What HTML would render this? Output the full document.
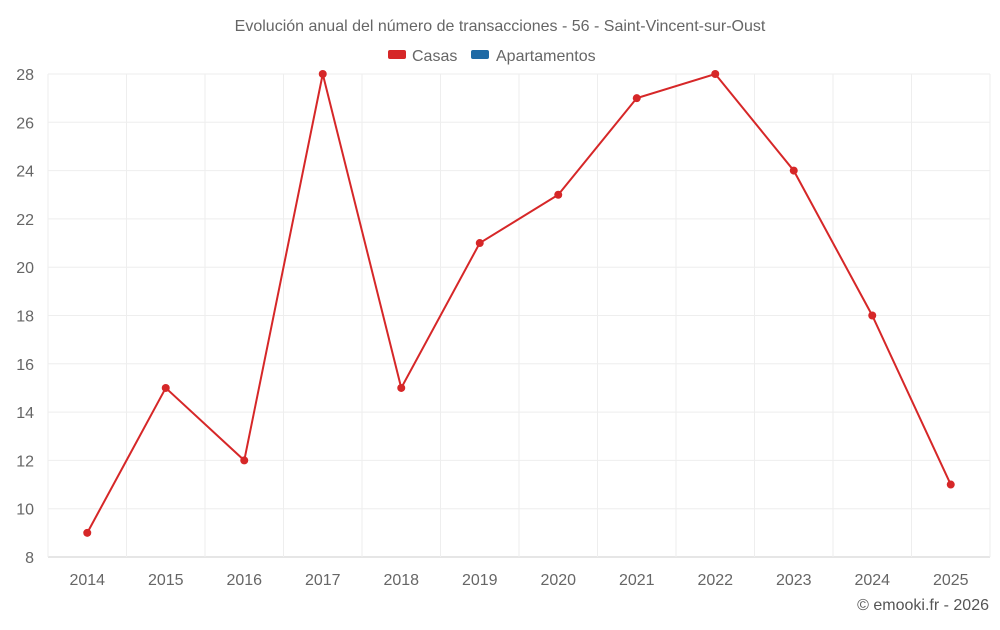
<!DOCTYPE html>
<html><head><meta charset="utf-8"><style>
body{margin:0;background:#fff;font-family:"Liberation Sans",sans-serif;}
svg text{font-family:"Liberation Sans",sans-serif;}
</style></head><body>
<svg id="c" width="1000" height="625" xmlns="http://www.w3.org/2000/svg">
<text x="500" y="31" text-anchor="middle" font-size="16" fill="#666">Evolución anual del número de transacciones - 56 - Saint-Vincent-sur-Oust</text>
<g>
<g><rect x="388" y="50" width="18" height="9" rx="2" fill="#d62728"/><text x="412" y="61" font-size="16" fill="#666">Casas</text></g>
<g><rect x="471" y="50" width="18" height="9" rx="2" fill="#1f6aa5"/><text x="496" y="61" font-size="16" fill="#666">Apartamentos</text></g>
</g>
<g id="grid"></g><g id="axes"></g><g id="series"></g>
<text x="989" y="610" text-anchor="end" font-size="16" fill="#555">© emooki.fr - 2026</text>
</svg>
<script>
const categories=["2014","2015","2016","2017","2018","2019","2020","2021","2022","2023","2024","2025"];
const casas=[9,15,12,28,15,21,23,27,28,24,18,11];
const yTicks=[8,10,12,14,16,18,20,22,24,26,28];
const L=48,R=990,T=74,B=557,yMin=8,yMax=28;
const bw=(R-L)/categories.length;
const xs=i=>L+bw*(i+0.5);
const ys=v=>B-(v-yMin)/(yMax-yMin)*(B-T);
const NS="http://www.w3.org/2000/svg";
function mk(p,t,a){const e=document.createElementNS(NS,t);for(const k in a)e.setAttribute(k,a[k]);p.appendChild(e);return e;}
const g=document.getElementById('grid'),ax=document.getElementById('axes'),s=document.getElementById('series');
yTicks.forEach(v=>{
 const l=mk(g,'line',{x1:L,x2:R,y1:ys(v),y2:ys(v),stroke:v===yMin?'#ccc':'#eee','stroke-width':1});
 
 
 const t=mk(ax,'text',{x:34,y:ys(v)+6,'text-anchor':'end','font-size':16,fill:'#666'});t.textContent=v;
 
 
});
for(let i=0;i<=categories.length;i++){
 const l=mk(g,'line',{x1:L+bw*i,x2:L+bw*i,y1:T,y2:B,stroke:'#eee','stroke-width':1});
 
 
}
categories.forEach((c,i)=>{
 const t=mk(ax,'text',{x:xs(i),y:585,'text-anchor':'middle','font-size':16,fill:'#666'});t.textContent=c;
 
 
});
const pl=mk(s,'polyline',{points:casas.map((v,i)=>xs(i)+','+ys(v)).join(' '),fill:'none',stroke:'#d62728','stroke-width':2});


casas.forEach((v,i)=>{
 const c=mk(s,'circle',{cx:xs(i),cy:ys(v),r:4,fill:'#d62728'});
 
 
});
</script>
</body></html>
